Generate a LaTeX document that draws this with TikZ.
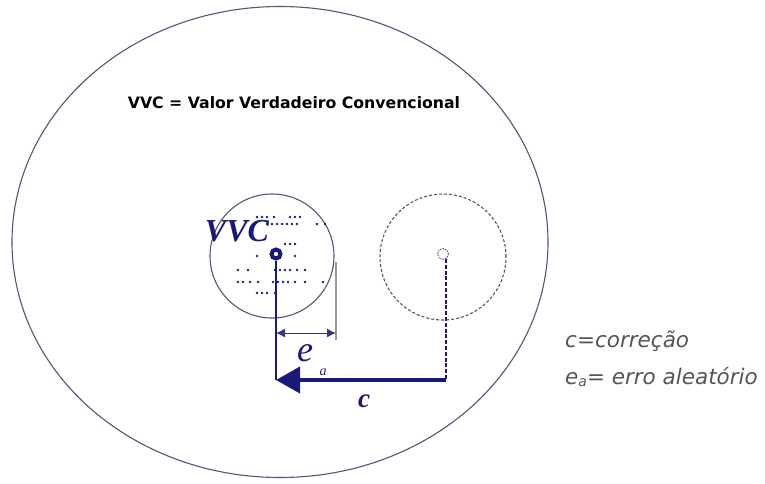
\documentclass[tikz,border=0pt]{standalone}
\usepackage{fontspec}
\setmainfont{Liberation Serif}
\newfontfamily\labelfont{DejaVu Sans}
\usetikzlibrary{arrows.meta,shapes.geometric}
\definecolor{navy}{RGB}{25,25,120}
\definecolor{rimgray}{RGB}{85,85,120}
\definecolor{notegray}{RGB}{85,85,85}
\tikzset{
  rim/.style={draw=rimgray, line width=1.1pt, inner sep=0pt},
  dotmark/.style={fill=navy},
  notetext/.style={font=\labelfont\itshape\fontsize{21.5}{24}\selectfont, text=notegray, anchor=base west, inner sep=0pt},
}
\begin{document}
\begin{tikzpicture}[x=1pt,y=-1pt]
\useasboundingbox (0,0) rectangle (765,483);
% outer ellipse
\node[rim, ellipse, minimum width=536pt, minimum height=471pt] (outer) at (280,242) {};
% title
\node[font=\labelfont\bfseries\fontsize{15.7}{18}\selectfont, inner sep=0pt] (title) at (294,103) {VVC = Valor Verdadeiro Convencional};
% circles
\node[rim, circle, minimum size=124pt] (sc) at (272,256) {};
\node[rim, circle, dashed, dash pattern=on 3pt off 2pt, minimum size=126pt] (dc) at (443,257) {};
\node[draw=rimgray, circle, dashed, dash pattern=on 1.5pt off 1pt, line width=0.9pt, minimum size=11pt, inner sep=0pt] (dctr) at (443,254) {};
% dots
\foreach \x/\y in {257/217,262/217,267/217,274/217,290/217,295/217,300/217,
  267/224,272/224,277/224,282/224,287/224,292/224,297/224,317/224,325/224,
  285/244,290/244,295/244,
  257/256,295/256,
  238/270,248/270,275/270,280/270,285/270,290/270,297/270,305/270,
  238/282,243/282,250/282,258/282,273/282,278/282,283/282,288/282,295/282,305/282,323/282,
  257/293,262/293,267/293,275/293}
  \fill[dotmark] (\x,\y) circle (1.4pt);
% VVC dot
\node[draw=navy, circle, line width=4pt, minimum size=9pt, inner sep=0pt, fill=white] (vvc) at (276,254) {};
\node[font=\bfseries\itshape\fontsize{32}{34}\selectfont, text=navy, inner sep=0pt] (vvclabel) at (237,231) {VVC};
% coordinates
\coordinate (corner) at (276,380);
\coordinate (dstart) at (446,259);
\coordinate (dend) at (446,380);
\coordinate (gtop) at (336,262);
\coordinate (gbot) at (336,340);
\coordinate (ea1) at (276,333);
\coordinate (ea2) at (336,333);
% lines
\draw[navy, line width=1.3pt] (vvc.south) -- (corner);
\draw[gray!80, line width=1.2pt] (gtop) -- (gbot);
\draw[navy!70!gray, line width=1pt, {Latex[length=9pt,width=9pt]}-{Latex[length=9pt,width=9pt]}] (ea1) -- (ea2);
\draw[navy, line width=2.8pt, dash pattern=on 4pt off 1.8pt] (dstart) -- (dend);
\draw[navy, line width=4pt, -{Triangle[length=24pt,width=26pt]}] (dend) -- (corner);
% labels
\node[font=\itshape\fontsize{36}{38}\selectfont, text=navy, inner sep=0pt] (elabel) at (305,353) {e};
\node[font=\itshape\fontsize{14}{15}\selectfont, text=navy, inner sep=0pt] (alabel) at (323,372) {a};
\node[font=\bfseries\itshape\fontsize{27}{29}\selectfont, text=navy, inner sep=0pt] (clabel) at (364,401) {c};
% notes
\node[notetext] (note1) at (565,347) {c=correção};
\node[notetext] (note2) at (565,384) {e\raisebox{-0.25ex}{\fontsize{14}{15}\selectfont a}= erro aleatório};
\end{tikzpicture}
\end{document}
